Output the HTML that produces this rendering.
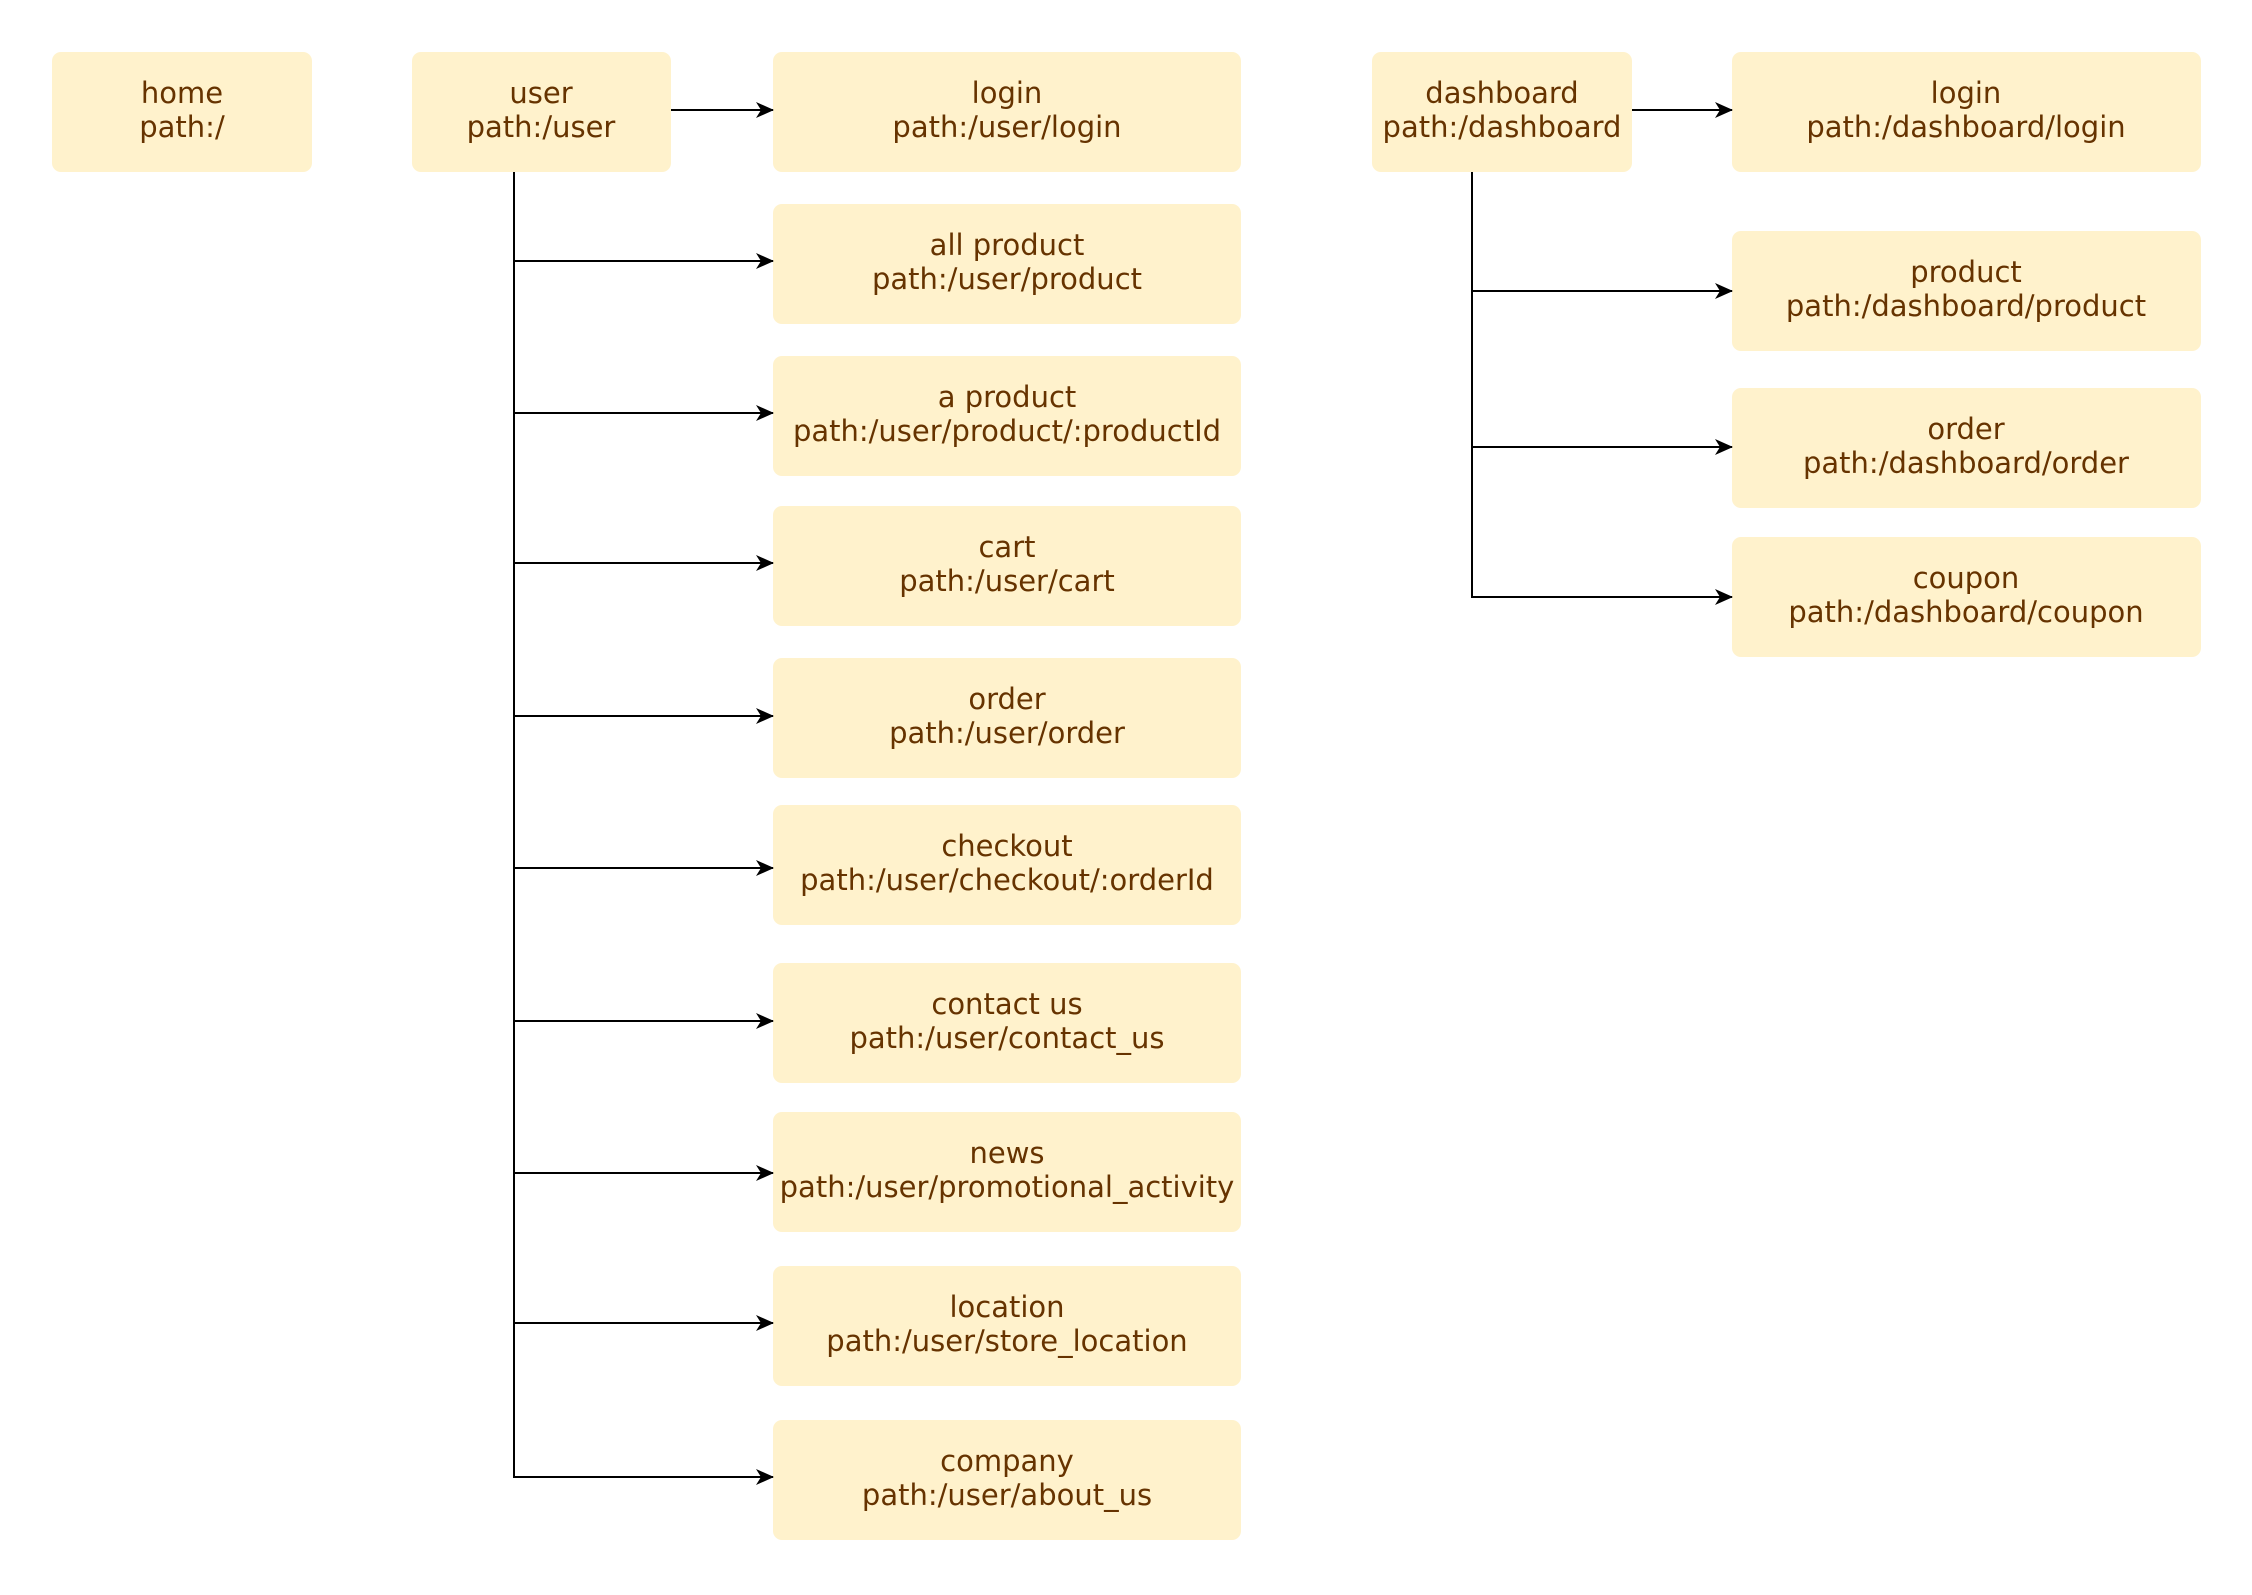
<!DOCTYPE html>
<html><head><meta charset="utf-8"><style>
html,body{margin:0;padding:0;background:#fff;}
svg text{font-family:"DejaVu Sans","Liberation Sans",sans-serif;font-size:29px;fill:#663300;text-anchor:middle;}
</style></head><body>
<svg width="2252" height="1590" viewBox="0 0 2252 1590" xmlns="http://www.w3.org/2000/svg">
<defs>
<marker id="a" markerWidth="18" markerHeight="16" refX="17" refY="8" orient="auto" markerUnits="userSpaceOnUse">
<path d="M0,0 L18,8 L0,16 L5,8 Z" fill="#000"/>
</marker>
</defs>
<g fill="#fff2cc">
<rect x="52" y="52" width="260" height="120" rx="9"/>
<rect x="412" y="52" width="259" height="120" rx="9"/>
<rect x="773" y="52" width="468" height="120" rx="9"/>
<rect x="773" y="204" width="468" height="120" rx="9"/>
<rect x="773" y="356" width="468" height="120" rx="9"/>
<rect x="773" y="506" width="468" height="120" rx="9"/>
<rect x="773" y="658" width="468" height="120" rx="9"/>
<rect x="773" y="805" width="468" height="120" rx="9"/>
<rect x="773" y="963" width="468" height="120" rx="9"/>
<rect x="773" y="1112" width="468" height="120" rx="9"/>
<rect x="773" y="1266" width="468" height="120" rx="9"/>
<rect x="773" y="1420" width="468" height="120" rx="9"/>
<rect x="1372" y="52" width="260" height="120" rx="9"/>
<rect x="1732" y="52" width="469" height="120" rx="9"/>
<rect x="1732" y="231" width="469" height="120" rx="9"/>
<rect x="1732" y="388" width="469" height="120" rx="9"/>
<rect x="1732" y="537" width="469" height="120" rx="9"/>
</g>
<g stroke="#000" stroke-width="2" fill="none">
<line x1="671" y1="110" x2="773" y2="110" marker-end="url(#a)"/>
<path d="M514,172 V1477"/>
<line x1="514" y1="261" x2="773" y2="261" marker-end="url(#a)"/>
<line x1="514" y1="413" x2="773" y2="413" marker-end="url(#a)"/>
<line x1="514" y1="563" x2="773" y2="563" marker-end="url(#a)"/>
<line x1="514" y1="716" x2="773" y2="716" marker-end="url(#a)"/>
<line x1="514" y1="868" x2="773" y2="868" marker-end="url(#a)"/>
<line x1="514" y1="1021" x2="773" y2="1021" marker-end="url(#a)"/>
<line x1="514" y1="1173" x2="773" y2="1173" marker-end="url(#a)"/>
<line x1="514" y1="1323" x2="773" y2="1323" marker-end="url(#a)"/>
<line x1="513" y1="1477" x2="773" y2="1477" marker-end="url(#a)"/>
<line x1="1632" y1="110" x2="1732" y2="110" marker-end="url(#a)"/>
<path d="M1472,172 V597"/>
<line x1="1472" y1="291" x2="1732" y2="291" marker-end="url(#a)"/>
<line x1="1472" y1="447" x2="1732" y2="447" marker-end="url(#a)"/>
<line x1="1471" y1="597" x2="1732" y2="597" marker-end="url(#a)"/>
</g>
<g>
<text x="182" y="103">home</text><text x="182" y="137">path:/</text>
<text x="541" y="103">user</text><text x="541" y="137">path:/user</text>
<text x="1007" y="103">login</text><text x="1007" y="137">path:/user/login</text>
<text x="1007" y="255">all product</text><text x="1007" y="289">path:/user/product</text>
<text x="1007" y="407">a product</text><text x="1007" y="441">path:/user/product/:productId</text>
<text x="1007" y="557">cart</text><text x="1007" y="591">path:/user/cart</text>
<text x="1007" y="709">order</text><text x="1007" y="743">path:/user/order</text>
<text x="1007" y="856">checkout</text><text x="1007" y="890">path:/user/checkout/:orderId</text>
<text x="1007" y="1014">contact us</text><text x="1007" y="1048">path:/user/contact_us</text>
<text x="1007" y="1163">news</text><text x="1007" y="1197">path:/user/promotional_activity</text>
<text x="1007" y="1317">location</text><text x="1007" y="1351">path:/user/store_location</text>
<text x="1007" y="1471">company</text><text x="1007" y="1505">path:/user/about_us</text>
<text x="1502" y="103">dashboard</text><text x="1502" y="137">path:/dashboard</text>
<text x="1966" y="103">login</text><text x="1966" y="137">path:/dashboard/login</text>
<text x="1966" y="282">product</text><text x="1966" y="316">path:/dashboard/product</text>
<text x="1966" y="439">order</text><text x="1966" y="473">path:/dashboard/order</text>
<text x="1966" y="588">coupon</text><text x="1966" y="622">path:/dashboard/coupon</text>
</g>
</svg>
</body></html>
